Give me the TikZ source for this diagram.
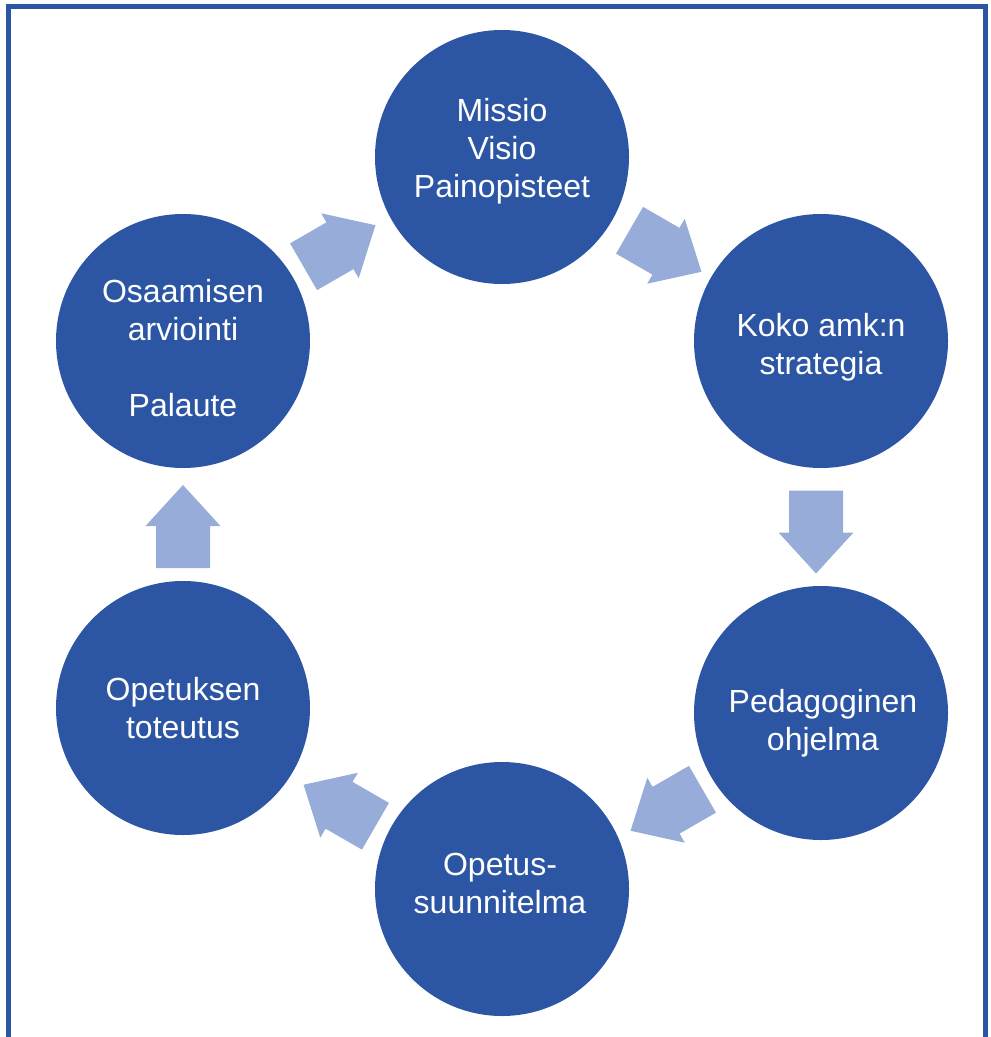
\documentclass[tikz,border=0pt]{standalone}
\usepackage{fontspec}
\setmainfont{Liberation Sans}
\usetikzlibrary{calc}
\definecolor{cycleblue}{RGB}{44,86,164}
\definecolor{arrowblue}{RGB}{151,172,216}
\begin{document}
\begin{tikzpicture}[x=0.75pt,y=-0.75pt,
  stage/.style={circle, fill=cycleblue, minimum size=190.5pt, inner sep=0pt},
  stagetext/.style={text=white, align=center, inner sep=0pt, text depth=0pt,
    font=\fontsize{24}{28.5}\selectfont},
  frameline/.style={draw=cycleblue, line width=3.75pt},
  flow/.pic={\fill[arrowblue] (-41.5,-27) -- (0.5,-27) -- (0.5,-37.5) -- (41.5,0)
      -- (0.5,37.5) -- (0.5,27) -- (-41.5,27) -- cycle;}
]
\useasboundingbox (0,0) rectangle (990,1037);

% outer frame
\draw[frameline] (8,1037) -- (8,6.5) -- (985.5,6.5) -- (985.5,1037);

% the six stages of the cycle
\node[stage] (mission)  at (502,157) {};
\node[stage] (strategy) at (821,341) {};
\node[stage] (pedagogy) at (821,713) {};
\node[stage] (plan)     at (502,889) {};
\node[stage] (teaching) at (183,708) {};
\node[stage] (assess)   at (183,341) {};

\node[stagetext] (missiontext)  at (502,147.5) {Missio\\Visio\\Painopisteet};
\node[stagetext] (strategytext) at (821,344)   {Koko amk:n\\strategia};
\node[stagetext] (pedagogytext) at (823,720)   {Pedagoginen\\ohjelma};
\node[stagetext] (plantext)     at (500,883)   {Opetus-\\suunnitelma};
\node[stagetext] (teachingtext) at (183,707.5) {Opetuksen\\toteutus};
\node[stagetext] (assesstext)   at (183,347.5) {Osaamisen\\arviointi\\[28.5pt]Palaute};

% block arrows between consecutive stages
\pic[rotate=-30]  at ($(mission)!0.5!(strategy)+(4,2)$)  {flow};
\pic[rotate=-90]  at ($(strategy)!0.5!(pedagogy)+(-5,5)$) {flow};
\pic[rotate=-150] at ($(pedagogy)!0.5!(plan)+(5,9)$)      {flow};
\pic[rotate=150]  at ($(plan)!0.5!(teaching)+(-3,7)$)     {flow};
\pic[rotate=90]   at ($(teaching)!0.5!(assess)+(0,2)$)    {flow};
\pic[rotate=30]   at ($(assess)!0.5!(mission)+(-3,-3)$)   {flow};
\end{tikzpicture}
\end{document}
